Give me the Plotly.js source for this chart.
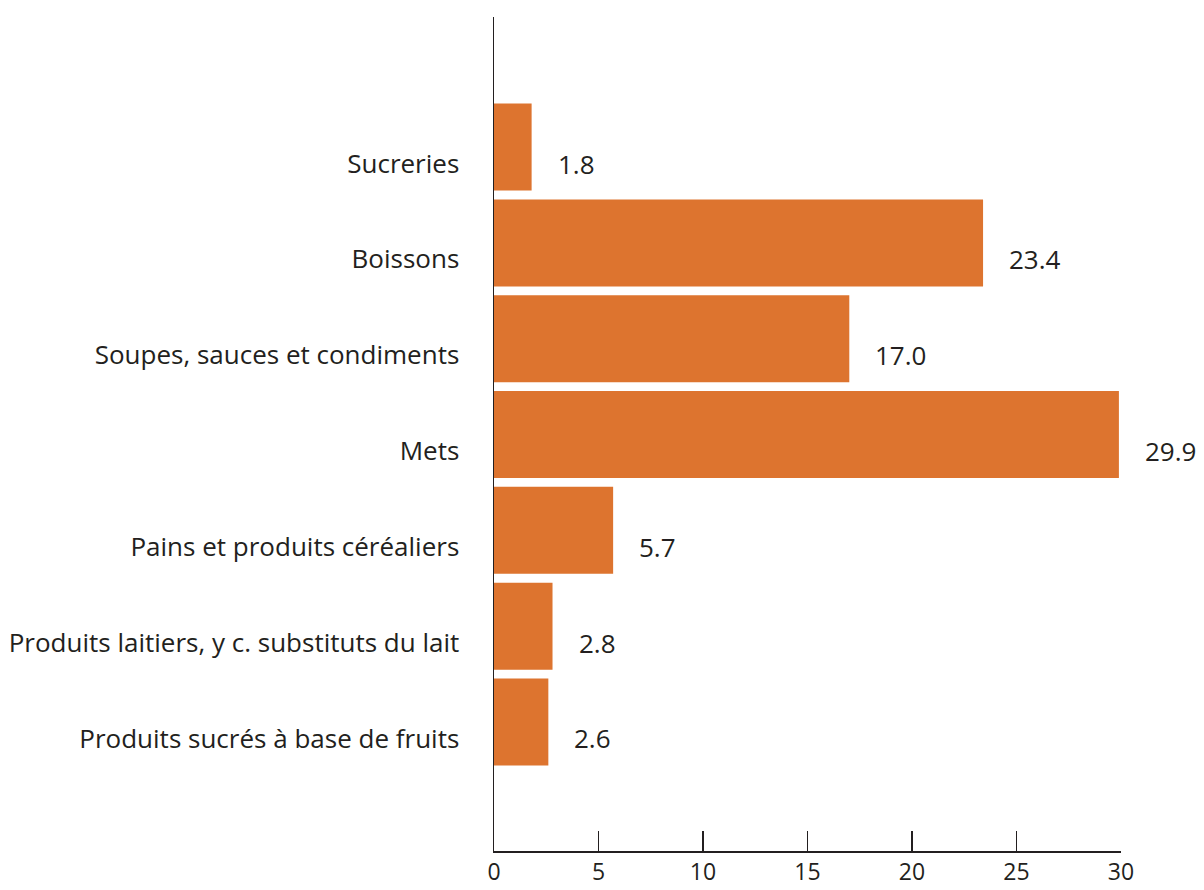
<!DOCTYPE html>
<html>
<head>
<meta charset="utf-8">
<script src="https://cdn.plot.ly/plotly-3.0.1.min.js"></script>
<style>html,body{margin:0;padding:0;background:#fff;}#chart{width:1204px;height:890px;}</style>
</head>
<body>
<div id="chart"></div>
<script>
// Categories listed from top to bottom as in the picture
var categories = [
  "Sucreries",
  "Boissons",
  "Soupes, sauces et condiments",
  "Mets",
  "Pains et produits céréaliers",
  "Produits laitiers, y c. substituts du lait",
  "Produits sucrés à base de fruits"
];
var values = [1.8, 23.4, 17.0, 29.9, 5.7, 2.8, 2.6];
var xTickValues = [0, 5, 10, 15, 20, 25, 30];

var cats = categories.slice().reverse();
var vals = values.slice().reverse();

var textColor = "#231f20";
var fontFamily = "'Open Sans', 'Noto Sans', sans-serif";

var trace = {
  type: "bar",
  orientation: "h",
  y: cats,
  x: vals,
  width: 0.908,
  offset: -0.282,
  marker: {color: "#dd742f", line: {width: 0}},
  hoverinfo: "x+y"
};

var annotations = vals.map(function (v, i) {
  return {
    x: v, y: cats[i], xref: "x", yref: "y",
    text: v.toFixed(1), showarrow: false,
    xanchor: "left", yanchor: "middle", xshift: 24,
    font: {family: fontFamily, size: 26, color: textColor}
  };
});

var layout = {
  width: 1204, height: 890,
  margin: {l: 494, r: 83, t: 17, b: 39, pad: 0},
  paper_bgcolor: "#ffffff", plot_bgcolor: "#ffffff",
  showlegend: false,
  font: {family: fontFamily, size: 26, color: textColor},
  xaxis: {
    range: [0, 30], tickvals: xTickValues, ticktext: xTickValues.map(String),
    showgrid: false, zeroline: false,
    showline: true, linecolor: textColor, linewidth: 1.5,
    ticks: "inside", ticklen: 20, tickwidth: 1.5, tickcolor: textColor,
    ticklabelstandoff: 0,
    tickfont: {family: fontFamily, size: 23, color: textColor},
    fixedrange: true
  },
  yaxis: {
    type: "category",
    range: [-1.175, 7.53],
    showgrid: false, zeroline: false,
    showline: true, linecolor: textColor, linewidth: 1.5,
    ticks: "", ticklabelstandoff: 28,
    tickfont: {family: fontFamily, size: 26, color: textColor},
    fixedrange: true
  },
  annotations: annotations
};

Plotly.newPlot("chart", [trace], layout, {displayModeBar: false, staticPlot: true});
</script>
</body>
</html>
